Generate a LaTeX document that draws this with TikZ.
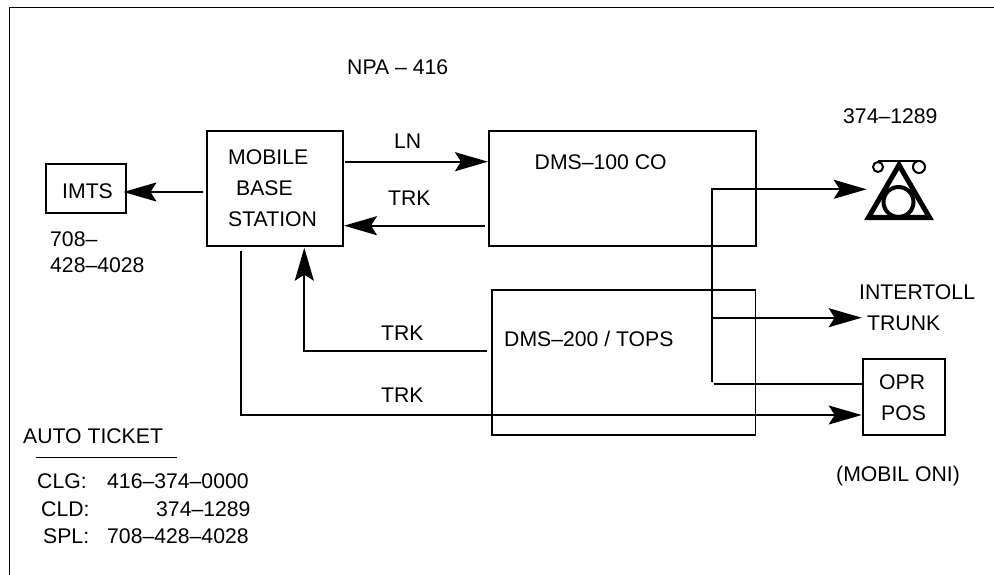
\documentclass[tikz,border=0pt]{standalone}
\usepackage{fontspec}
\setmainfont{Liberation Sans}
\usetikzlibrary{arrows.meta}
\tikzset{
  x=1pt,y=-1pt,
  box/.style={draw=black,line width=1.9pt,fill=none,inner sep=0pt,outer sep=0pt,anchor=north west},
  lbl/.style={inner sep=0pt,anchor=base west,font=\fontsize{21.2}{24}\selectfont,text=black},
  wire/.style={draw=black,line width=1.9pt,line join=miter},
  conn/.style={wire,-{Stealth[length=33pt,width=19pt,inset=6pt]}},
}
\begin{document}
\begin{tikzpicture}
\useasboundingbox (0,0) rectangle (994,575);
\fill[white] (0,0) rectangle (994,575);
\draw[line width=1.1pt] (9.5,575) -- (9.5,7.3) -- (994,7.3);
\node[box,minimum width=136pt,minimum height=115pt] (mbs) at (207,131) {};
\node[box,minimum width=80pt,minimum height=48.7pt] (imts) at (45.7,164) {};
\node[box,minimum width=266.7pt,minimum height=114.7pt] (co) at (489,131) {};
\node[box,minimum width=263.8pt,minimum height=145.3pt] (tops) at (491.7,290) {};
\node[box,minimum width=82pt,minimum height=76.6pt] (opr) at (863,358.7) {};
\node[lbl] (t1) at (62,198) {IMTS};
\node[lbl] (t2) at (228,165) {MOBILE};
\node[lbl] (t3) at (236,196) {BASE};
\node[lbl] (t4) at (228,226) {STATION};
\node[lbl] (t5) at (50,247) {708–};
\node[lbl] (t6) at (50,272) {428–4028};
\node[lbl] (t7) at (347,75) {NPA – 416};
\node[lbl] (t8) at (843,124) {374–1289};
\node[lbl] (t9) at (394,149) {LN};
\node[lbl] (t10) at (388,205) {TRK};
\node[lbl] (t11) at (534.5,170) {DMS–100 CO};
\node[lbl] (t12) at (859,299) {INTERTOLL};
\node[lbl] (t13) at (867,330) {TRUNK};
\node[lbl] (t14) at (381,340) {TRK};
\node[lbl] (t15) at (504,346.5) {DMS–200 / TOPS};
\node[lbl] (t16) at (381,402) {TRK};
\node[lbl] (t17) at (879,389) {OPR};
\node[lbl] (t18) at (881,420) {POS};
\node[lbl] (t19) at (836,481) {(MOBIL ONI)};
\node[lbl] (t20) at (23,443) {AUTO TICKET};
\node[lbl] (t21) at (37,488) {CLG:};
\node[lbl] (t22) at (107,488) {416–374–0000};
\node[lbl] (t23) at (41,516) {CLD:};
\node[lbl] (t24) at (156,516) {374–1289};
\node[lbl] (t25) at (43,543) {SPL:};
\node[lbl] (t26) at (107,543) {708–428–4028};
\draw[line width=1pt] (35.7,457.7) -- (177,457.7);
% telephone symbol
\coordinate (ph) at (899,189.3);
\draw[line width=5pt,miter limit=10] (899,165) -- (868.5,217.5) -- (929.5,217.5) -- cycle;
\draw[line width=4pt] (898.5,202) circle (15);
\draw[line width=2pt] (878,161) -- (921,161);
\draw[line width=2pt] (878,167) circle (5);
\draw[line width=2pt] (919,167) circle (6);
% connectors
\coordinate (f1) at (712,381.7);
\coordinate (g1) at (712,317.7);
\coordinate (g2) at (861.7,317.7);
\coordinate (h1) at (714,384.3);
\draw[conn] ([xshift=2pt,yshift=26.8pt]mbs.east) -- ([xshift=-1pt,yshift=26.65pt]co.west);
\draw[conn] ([xshift=-4pt,yshift=-37.35pt]co.west) -- ([xshift=1pt,yshift=-37.2pt]mbs.east);
\draw[conn] ([xshift=-4pt,yshift=-3.5pt]mbs.west) -- ([xshift=-2.2pt,yshift=-3.65pt]imts.east);
\draw[conn] ([xshift=-4.7pt,yshift=11.65pt]tops.west) -| ([xshift=29.3pt,yshift=-1.7pt]mbs.south);
\draw[conn] ([xshift=-34.3pt,yshift=-4.7pt]mbs.south) |- ([xshift=-1.3pt,yshift=-18pt]opr.west);
\draw[conn] (f1) |- ([xshift=-32.3pt]ph);
\draw[conn] (g1) -- (g2);
\draw[wire] (h1) -- ([yshift=12.7pt]opr.west);
\end{tikzpicture}
\end{document}
